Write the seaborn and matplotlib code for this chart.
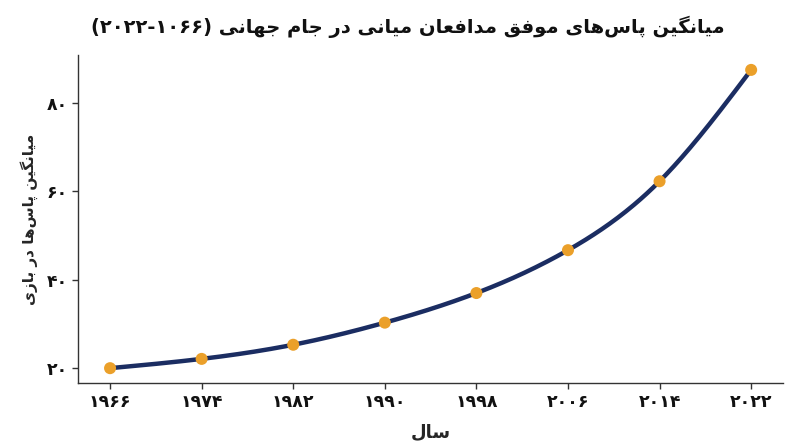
import re
import numpy as np
import pandas as pd
import matplotlib
matplotlib.use("Agg")
import matplotlib.pyplot as plt
import seaborn as sns

# data
years = [1966, 1974, 1982, 1990, 1998, 2006, 2014, 2022]
avg_passes = [20.0, 22.1, 25.3, 30.3, 37.0, 46.7, 62.3, 87.5]
y_ticks = [20, 40, 60, 80]

title_text = "میانگین پاس‌های موفق مدافعان میانی در جام جهانی (۲۰۲۲-۱۰۶۶)"
xlabel_text = "سال"
ylabel_text = "میانگین پاس‌ها در بازی"

LINE_COLOR = "#1b2d62"
DOT_COLOR = "#eba02a"

# --- minimal Persian shaping (matplotlib does no shaping / bidi) ---
FORMS = {
    "ا": ("\uFE8D", "\uFE8E", None, None),
    "ب": ("\uFE8F", "\uFE90", "\uFE91", "\uFE92"),
    "پ": ("\uFB56", "\uFB57", "\uFB58", "\uFB59"),
    "ج": ("\uFE9D", "\uFE9E", "\uFE9F", "\uFEA0"),
    "د": ("\uFEA9", "\uFEAA", None, None),
    "ر": ("\uFEAD", "\uFEAE", None, None),
    "ز": ("\uFEAF", "\uFEB0", None, None),
    "س": ("\uFEB1", "\uFEB2", "\uFEB3", "\uFEB4"),
    "ع": ("\uFEC9", "\uFECA", "\uFECB", "\uFECC"),
    "ف": ("\uFED1", "\uFED2", "\uFED3", "\uFED4"),
    "ق": ("\uFED5", "\uFED6", "\uFED7", "\uFED8"),
    "گ": ("\uFB92", "\uFB93", "\uFB94", "\uFB95"),
    "ل": ("\uFEDD", "\uFEDE", "\uFEDF", "\uFEE0"),
    "م": ("\uFEE1", "\uFEE2", "\uFEE3", "\uFEE4"),
    "ن": ("\uFEE5", "\uFEE6", "\uFEE7", "\uFEE8"),
    "ه": ("\uFEE9", "\uFEEA", "\uFEEB", "\uFEEC"),
    "و": ("\uFEED", "\uFEEE", None, None),
    "ی": ("\uFBFC", "\uFBFD", "\uFBFE", "\uFBFF"),
}
NUM = r"[۰-۹]+(?:-[۰-۹]+)*"


def shape(text):
    out = []
    for i, ch in enumerate(text):
        if ch not in FORMS:
            if ch != "\u200c":
                out.append(ch)
            continue
        prev = text[i - 1] if i > 0 else ""
        nxt = text[i + 1] if i + 1 < len(text) else ""
        join_prev = prev in FORMS and FORMS[prev][2] is not None
        join_next = nxt in FORMS and FORMS[ch][2] is not None
        iso, fin, ini, med = FORMS[ch]
        if join_prev and join_next:
            out.append(med)
        elif join_prev:
            out.append(fin)
        elif join_next:
            out.append(ini)
        else:
            out.append(iso)
    return "".join(out)


def rtl(text):
    parts = re.split("(" + NUM + ")", shape(text))
    out = []
    for p in parts[::-1]:
        if re.fullmatch(NUM, p):
            out.append(p)
        else:
            out.append(p[::-1].translate(str.maketrans("()", ")(")))
    return "".join(out)


def fa_digits(n):
    return str(n).translate(str.maketrans("0123456789", "۰۱۲۳۴۵۶۷۸۹"))


def natural_spline(x, y, num=400):
    x = np.asarray(x, float)
    y = np.asarray(y, float)
    n = len(x)
    h = np.diff(x)
    A = np.zeros((n, n))
    r = np.zeros(n)
    A[0, 0] = A[-1, -1] = 1
    for i in range(1, n - 1):
        A[i, i - 1] = h[i - 1]
        A[i, i] = 2 * (h[i - 1] + h[i])
        A[i, i + 1] = h[i]
        r[i] = 3 * ((y[i + 1] - y[i]) / h[i] - (y[i] - y[i - 1]) / h[i - 1])
    c = np.linalg.solve(A, r)
    b = (y[1:] - y[:-1]) / h - h * (2 * c[:-1] + c[1:]) / 3
    d = (c[1:] - c[:-1]) / (3 * h)
    xs = np.linspace(x[0], x[-1], num)
    k = np.clip(np.searchsorted(x, xs) - 1, 0, n - 2)
    t = xs - x[k]
    ys = y[k] + b[k] * t + c[k] * t ** 2 + d[k] * t ** 3
    return xs, ys


df = pd.DataFrame({"year": years, "passes": avg_passes})
sx, sy = natural_spline(years, avg_passes)
smooth = pd.DataFrame({"year": sx, "passes": sy})

sns.set_theme(style="ticks")
plt.rcParams["font.family"] = ["DejaVu Sans"]

fig = plt.figure(figsize=(8, 4.47), dpi=100)
ax = fig.add_axes([0.0975, 0.143, 0.8815, 0.734])

sns.lineplot(data=smooth, x="year", y="passes", ax=ax, color=LINE_COLOR,
             linewidth=3.2, zorder=2)
sns.scatterplot(data=df, x="year", y="passes", ax=ax, color=DOT_COLOR,
                s=75, edgecolor="none", zorder=3)

ax.set_xticks(years)
ax.set_xticklabels([fa_digits(y) for y in years], fontweight="bold", fontsize=12.5)
ax.set_yticks(y_ticks)
ax.set_yticklabels([fa_digits(v) for v in y_ticks], fontweight="bold", fontsize=12.5)
ax.tick_params(length=4, width=1, color="#333333", labelcolor="#111111")

ax.set_xlabel(rtl(xlabel_text), fontweight="bold", fontsize=13, labelpad=8)
ax.set_ylabel(rtl(ylabel_text), fontweight="bold", fontsize=11, labelpad=6)

for s in ["left", "bottom"]:
    ax.spines[s].set_color("#333333")
    ax.spines[s].set_linewidth(1)
sns.despine(ax=ax)

fig.text(0.51, 0.94, rtl(title_text), ha="center", va="center",
         fontweight="bold", fontsize=14, color="#111111")

fig.savefig("out.png", dpi=100)
